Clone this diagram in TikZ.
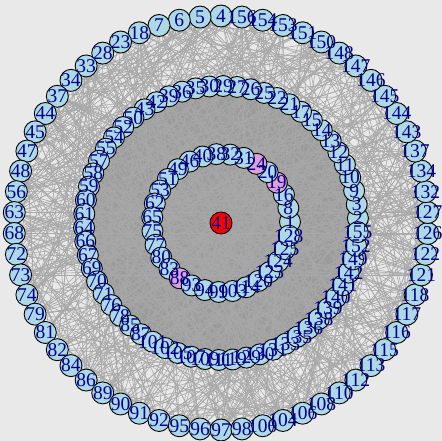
\documentclass[tikz,border=0pt]{standalone}
\usepackage{fontspec}
\setmainfont{Liberation Serif}
\definecolor{bgc}{RGB}{233,233,233}
\definecolor{edgec}{RGB}{168,168,168}
\definecolor{diskc}{RGB}{155,155,155}
\definecolor{nodeblue}{RGB}{173,216,230}
\definecolor{nodepink}{RGB}{221,160,221}
\definecolor{labc}{RGB}{0,0,139}
\pgfdeclarelayer{bg}
\pgfdeclarelayer{fg}
\pgfsetlayers{bg,main,fg}
\tikzset{
  vert/.style={circle,draw=black,line width=0.9pt,inner sep=0pt,minimum size=#1},
  lab/.style={text=labc,inner sep=0pt,font=\fontsize{19.5}{19.5}\selectfont},
  edge/.style={draw=edgec,line width=0.6pt}
}
\def\outerlist{4,5,6,7,18,23,28,33,34,37,44,45,47,48,56,63,68,72,73,74,79,81,82,84,86,89,90,91,92,95,96,97,98,100,104,106,108,110,112,113,115,116,117,118,121,122,126,127,132,134,137,143,144,145,146,147,148,150,151,153,154,156}
\def\middlelist{2,3,9,10,11,12,13,14,15,17,21,22,25,26,27,29,30,35,36,39,42,43,50,52,54,55,57,58,59,60,61,64,66,67,69,70,71,76,78,85,87,101,102,105,107,109,111,119,129,130,131,133,135,136,138,139,140,141,142,149,152,155}
\def\innerlist{1,8,16,19,20,24,31,32,38,40,46,49,51,53,62,65,75,77,80,83,88,93,94,99,103,114,120,123,124,125,128}
\begin{document}
\begin{tikzpicture}[x=1pt,y=1pt]
\useasboundingbox (0,0) rectangle (442,441);
\coordinate (C) at (221,218);
% vertices
\foreach \v [count=\k from 0] in \outerlist {
  \pgfmathsetmacro{\ang}{90+\k*5.80645}
  \node[vert=22pt,fill=nodeblue] (o\k) at ([shift={(\ang:207)}]C) {};
}
\foreach \v [count=\k from 0] in \middlelist {
  \pgfmathsetmacro{\ang}{2+\k*5.80645}
  \node[vert=21pt,fill=nodeblue] (m\k) at ([shift={(\ang:137)}]C) {};
}
\foreach \v [count=\k from 0] in \innerlist {
  \pgfmathsetmacro{\ang}{1+\k*11.6129}
  \def\fc{nodeblue}
  \ifnum\v=19 \def\fc{nodepink}\fi
  \ifnum\v=24 \def\fc{nodepink}\fi
  \ifnum\v=88 \def\fc{nodepink}\fi
  \node[vert=21pt,fill=\fc] (i\k) at ([shift={(\ang:69)}]C) {};
}
\node[vert=22pt,fill=red] (c) at (C) {};
% edges and background
\begin{pgfonlayer}{bg}
  \fill[bgc] (0,0) rectangle (442,441);
  \fill[diskc] (C) circle (137);
  \pgfmathsetseed{4242}
  \foreach \k in {0,...,61}{
    \foreach \e in {1,...,14}{
      \pgfmathrandominteger{\r}{1}{4}
      \pgfmathrandominteger{\t}{0}{61}
      \ifnum\r<3
        \draw[edge] (o\k) -- (o\t);
      \else\ifnum\r=3
        \draw[edge] (o\k) -- (m\t);
      \else
        \pgfmathrandominteger{\t}{0}{30}
        \draw[edge] (o\k) -- (i\t);
      \fi\fi
    }
  }
  \foreach \k in {0,...,30}{
    \draw[edge] (c) -- (i\k);
  }
\end{pgfonlayer}
% labels
\begin{pgfonlayer}{fg}
  \foreach \v [count=\k from 0] in \outerlist { \node[lab] (lo\k) at (o\k) {\v}; }
  \foreach \v [count=\k from 0] in \middlelist { \node[lab] (lm\k) at (m\k) {\v}; }
  \foreach \v [count=\k from 0] in \innerlist { \node[lab] (li\k) at (i\k) {\v}; }
  \node[lab] (lc) at (c) {41};
\end{pgfonlayer}
\end{tikzpicture}
\end{document}
